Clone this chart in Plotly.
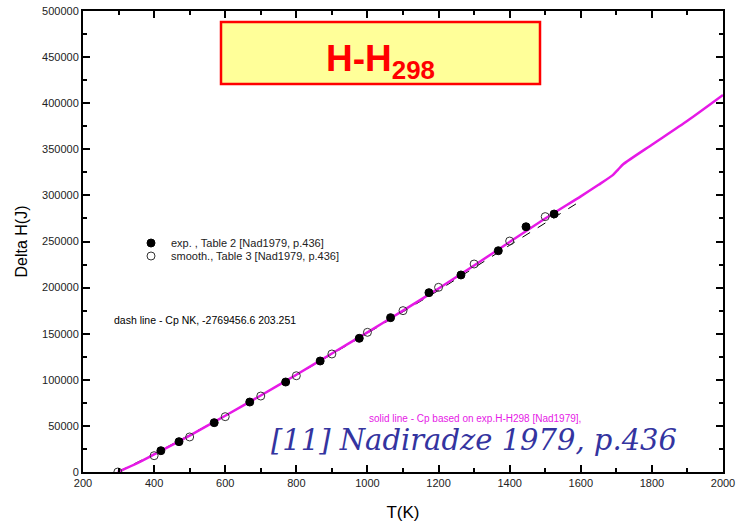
import plotly.graph_objects as go

# Enthalpy increment H(T) - H(298), J
# Experimental points, Table 2
exp_T = [419, 470, 569, 669, 770, 867, 977, 1065, 1173, 1263, 1368, 1446, 1525]
exp_H = [23100, 32900, 53500, 75900, 97600, 120400, 145000, 167400, 194500,
         213700, 240000, 266000, 279800]

# Smoothed values, Table 3
smooth_T = [298, 400, 500, 600, 700, 800, 900, 1000, 1100, 1200, 1300, 1400, 1500]
smooth_H = [0, 17700, 38000, 60000, 82400, 104400, 128000, 151500, 175000,
            200300, 225600, 250500, 277000]

# Solid line: Cp fitted to experimental H-H298
solid_T = [298, 350, 400, 500, 600, 700, 800, 900, 1000, 1100, 1200, 1300,
           1400, 1500, 1600, 1650, 1690, 1705, 1720, 1800, 1900, 2000]
solid_H = [0, 9000, 19000, 39500, 61000, 83000, 105500, 128500, 151500, 175000,
           199000, 224000, 249500, 275000, 299000, 311500, 322000, 328000,
           334000, 355000, 381000, 409000]

# Dashed line: Cp NK
dash_T = [298, 400, 600, 800, 1000, 1200, 1400, 1600]
dash_H = [0, 19500, 61000, 105000, 150500, 197000, 246000, 294000]

x_ticks = [200, 400, 600, 800, 1000, 1200, 1400, 1600, 1800, 2000]
y_ticks = [0, 50000, 100000, 150000, 200000, 250000, 300000, 350000, 400000,
           450000, 500000]

MAGENTA = "#e619e6"
SANS = "Liberation Sans, Arial"

# plot-area geometry in pixels (used to place paper-referenced items)
W, H = 736, 524
ML, MR, MT, MB = 83, 13, 11, 52
PW, PH = W - ML - MR, H - MT - MB


def px(x):
    return (x - ML) / PW


def py(y):
    return (H - MB - y) / PH


fig = go.Figure()

fig.add_trace(go.Scatter(
    x=dash_T, y=dash_H, mode="lines",
    line=dict(color="black", width=1, dash="dash"),
    showlegend=False, hoverinfo="skip"))

fig.add_trace(go.Scatter(
    x=solid_T, y=solid_H, mode="lines",
    line=dict(color=MAGENTA, width=2.5, shape="spline", smoothing=0.6),
    showlegend=False, hoverinfo="skip"))

fig.add_trace(go.Scatter(
    x=exp_T, y=exp_H, mode="markers",
    name="exp. , Table 2 [Nad1979, p.436]", legend="legend",
    marker=dict(symbol="circle", size=8, color="black",
                line=dict(color="black", width=1))))

fig.add_trace(go.Scatter(
    x=smooth_T, y=smooth_H, mode="markers",
    name="smooth., Table 3 [Nad1979, p.436]", legend="legend2",
    marker=dict(symbol="circle-open", size=8, color="#333333",
                line=dict(width=1))))

axis_common = dict(
    showline=True, linecolor="black", linewidth=2, mirror="ticks",
    ticks="inside", ticklen=7, tickwidth=1.5, tickcolor="black",
    showgrid=False, zeroline=False, automargin=False,
    tickfont=dict(family=SANS, size=11, color="#222222"),
)

fig.update_xaxes(
    range=[200, 2000], tickvals=x_ticks, ticktext=[str(v) for v in x_ticks],
    minor=dict(ticks="inside", ticklen=4, dtick=100, tickcolor="black",
               tickwidth=1.5),
    title=dict(text="T(K)", font=dict(family=SANS, size=17, color="black"),
               standoff=18),
    **axis_common)

fig.update_yaxes(
    range=[0, 500000], tickvals=y_ticks, ticktext=[str(v) for v in y_ticks],
    minor=dict(ticks="inside", ticklen=4, dtick=25000, tickcolor="black",
               tickwidth=1.5),
    title=dict(text="Delta H(J)", font=dict(family=SANS, size=16,
                                            color="black"),
               standoff=10),
    **axis_common)

# Title box
fig.add_shape(type="rect", xref="paper", yref="paper",
              x0=px(221), x1=px(540), y0=py(84), y1=py(22),
              fillcolor="#ffff99", line=dict(color="#ff0000", width=2.5),
              layer="below")
fig.add_annotation(xref="paper", yref="paper", x=px(380), y=py(61),
                   xanchor="center", yanchor="middle",
                   text="<b>H-H<sub>298</sub></b>", showarrow=False,
                   font=dict(family=SANS, size=37, color="#ff0000"))

fig.add_annotation(xref="paper", yref="paper", x=px(112), y=py(320),
                   xanchor="left", yanchor="middle",
                   text="dash line - Cp NK, -2769456.6 203.251",
                   showarrow=False,
                   font=dict(family=SANS, size=10.5, color="black"))

fig.add_annotation(xref="paper", yref="paper", x=px(475), y=py(418),
                   xanchor="center", yanchor="middle",
                   text="solid line - Cp based on exp.H-H298 [Nad1979],",
                   showarrow=False,
                   font=dict(family=SANS, size=10, color=MAGENTA))

fig.add_annotation(xref="paper", yref="paper", x=px(474), y=py(440),
                   xanchor="center", yanchor="middle",
                   text="<i>[11] Nadiradze 1979, p.436</i>",
                   showarrow=False,
                   font=dict(family="DejaVu Serif", size=29, color="#3434a0"))

legend_common = dict(
    xanchor="left", yanchor="middle", bgcolor="rgba(0,0,0,0)",
    itemwidth=30, borderwidth=0,
    font=dict(family=SANS, size=11, color="#222222"),
)

fig.update_layout(
    width=W, height=H,
    margin=dict(l=ML, r=MR, t=MT, b=MB),
    paper_bgcolor="white", plot_bgcolor="white",
    showlegend=True,
    legend=dict(x=px(131), y=py(243), **legend_common),
    legend2=dict(x=px(131), y=py(256), **legend_common),
)

fig.write_html("out.html")
